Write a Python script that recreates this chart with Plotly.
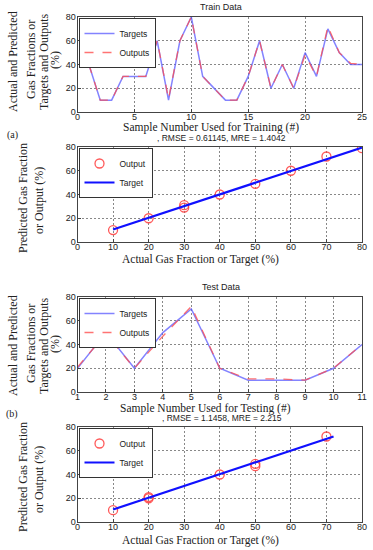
import plotly.graph_objects as go

# ---- data ----
train_x = list(range(1, 26))
train_targets = [40, 10, 10, 30, 30, 30, 60, 10, 60, 80, 30, 20, 10, 10, 30, 60, 20, 40, 20, 50, 30, 70, 50, 40, 40]
train_outputs = [40, 10, 10, 30, 30, 30, 60, 11, 60, 80, 30, 20, 10, 10, 30, 60, 20, 40, 20, 48, 30, 72, 50, 41, 40]

test_x = list(range(1, 12))
test_targets = [20, 50, 20, 50, 70, 20, 10, 10, 10, 20, 40]
test_outputs = [21, 49, 20, 47, 72, 20, 11, 11, 10, 20, 40]

reg_train_actual = [10, 20, 30, 30, 40, 50, 60, 70, 80]
reg_train_pred = [10, 20, 29, 31, 40, 49, 60, 72, 79]
reg_train_line_x = [10, 80]
reg_train_line_y = [10.5, 79.5]

reg_test_actual = [10, 20, 20, 40, 50, 50, 70]
reg_test_pred = [10, 20, 21, 40, 47, 49, 72]
reg_test_line_x = [10, 72]
reg_test_line_y = [10.5, 72]

W, H = 373, 550
x0, x1 = 77.5 / W, 362 / W
def ydom(top, bot):
    return [1 - bot / H, 1 - top / H]

doms = [ydom(17, 112), ydom(147, 242), ydom(297, 392), ydom(427, 522)]

fig = go.Figure()

SERIF = "Liberation Serif"
SANS = "Liberation Sans"

# panel 1
fig.add_trace(go.Scatter(x=train_x, y=train_targets, mode="lines", name="Targets",
                         line=dict(color="rgba(90,90,255,0.75)", width=1.5),
                         xaxis="x", yaxis="y", legend="legend"))
fig.add_trace(go.Scatter(x=train_x, y=train_outputs, mode="lines", name="Outputs",
                         line=dict(color="rgba(255,80,80,0.8)", width=1.3, dash="dash"),
                         xaxis="x", yaxis="y", legend="legend"))
# panel 2
fig.add_trace(go.Scatter(x=reg_train_actual, y=reg_train_pred, mode="markers", name="Output",
                         marker=dict(symbol="circle-open", size=9, color="rgba(255,60,60,0.85)", line=dict(width=1.3)),
                         xaxis="x2", yaxis="y2", legend="legend2"))
fig.add_trace(go.Scatter(x=reg_train_line_x, y=reg_train_line_y, mode="lines", name="Target",
                         line=dict(color="#1010ff", width=2.2),
                         xaxis="x2", yaxis="y2", legend="legend2"))
# panel 3
fig.add_trace(go.Scatter(x=test_x, y=test_targets, mode="lines", name="Targets",
                         line=dict(color="rgba(90,90,255,0.75)", width=1.5),
                         xaxis="x3", yaxis="y3", legend="legend3"))
fig.add_trace(go.Scatter(x=test_x, y=test_outputs, mode="lines", name="Outputs",
                         line=dict(color="rgba(255,80,80,0.8)", width=1.3, dash="dash"),
                         xaxis="x3", yaxis="y3", legend="legend3"))
# panel 4
fig.add_trace(go.Scatter(x=reg_test_actual, y=reg_test_pred, mode="markers", name="Output",
                         marker=dict(symbol="circle-open", size=9, color="rgba(255,60,60,0.85)", line=dict(width=1.3)),
                         xaxis="x4", yaxis="y4", legend="legend4"))
fig.add_trace(go.Scatter(x=reg_test_line_x, y=reg_test_line_y, mode="lines", name="Target",
                         line=dict(color="#1010ff", width=2.2),
                         xaxis="x4", yaxis="y4", legend="legend4"))

axis_common = dict(showline=True, mirror=True, linecolor="#444", linewidth=1,
                   showgrid=True, gridcolor="#888", griddash="2px,2px", gridwidth=1,
                   ticks="inside", ticklen=3, tickcolor="#444", automargin=False,
                   tickfont=dict(family=SANS, size=9, color="#222"), zeroline=False)

xranges = [[0, 25], [0, 80], [1, 11], [0, 80]]
xdticks = [5, 10, 1, 10]
layout = {}
for i in range(4):
    s = "" if i == 0 else str(i + 1)
    layout["xaxis" + s] = dict(axis_common, domain=[x0, x1], range=xranges[i], dtick=xdticks[i],
                               anchor="y" + s, tick0=xranges[i][0], ticklabelstandoff=-4)
    layout["yaxis" + s] = dict(axis_common, domain=doms[i], range=[0, 80], dtick=20,
                               anchor="x" + s, ticklabelstandoff=-1)

def legend_at(i):
    d = doms[i]
    return dict(x=x0 + 1 / W, y=d[1] - 1 / H, xanchor="left", yanchor="top",
                bgcolor="white", bordercolor="#333", borderwidth=1,
                font=dict(family=SANS, size=8.5, color="#222"),
                tracegroupgap=0, itemwidth=30)

fig.update_layout(**layout)
fig.update_layout(legend=legend_at(0), legend2=legend_at(1),
                  legend3=legend_at(2), legend4=legend_at(3))

ann = []
def txt(x, y, t, size=11, family=SERIF, angle=0, color="#222"):
    ann.append(dict(x=x / W, y=1 - y / H, xref="paper", yref="paper", text=t,
                    showarrow=False, textangle=angle, xanchor="center", yanchor="middle",
                    font=dict(family=family, size=size, color=color)))

# titles
txt(221, 7, "Train Data", size=9, family=SANS)
txt(221, 287, "Test Data", size=9, family=SANS)
# x titles
txt(211, 128, "Sample Number Used for Training (#)", size=11.5)
txt(222, 137.5, ", RMSE = 0.61145, MRE = 1.4042", size=8.5, family=SANS)
txt(200, 259, "Actual Gas Fraction or Target (%)", size=11.5)
txt(205, 408, "Sample Number Used for Testing (#)", size=11.5)
txt(222, 418, ", RMSE = 1.1458, MRE = 2.215", size=8.5, family=SANS)
txt(200, 540, "Actual Gas Fraction or Target (%)", size=11.5)
# panel labels
txt(12, 135, "(a)", size=10)
txt(12, 414, "(b)", size=10)
# y titles
for yc in (62, 346):
    txt(13, yc, "Actual and Predicted", size=12, angle=-90)
    txt(31, yc - 2, "Gas Fractions or", size=12, angle=-90)
    txt(44, yc, "Targets and Outputs", size=12, angle=-90)
    txt(55, yc - 2, "(%)", size=12, angle=-90)
for yc in (198, 477):
    txt(23, yc, "Predicted Gas Fraction", size=12, angle=-90)
    txt(39, yc + 3, "or Output (%)", size=12, angle=-90)

fig.update_layout(annotations=ann, width=W, height=H,
                  margin=dict(l=0, r=0, t=0, b=0),
                  paper_bgcolor="white", plot_bgcolor="white", showlegend=True)

fig.write_html("out.html", config={"displayModeBar": False},
               post_script="document.body.style.margin='0';")
